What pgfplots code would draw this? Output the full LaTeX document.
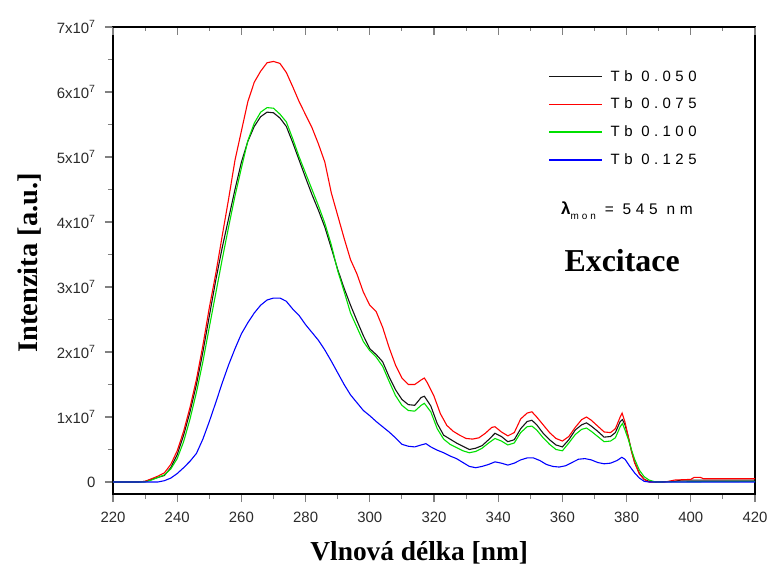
\documentclass[border=0pt]{standalone}
\usepackage{fontspec}
\setmainfont{Liberation Serif}
\newfontfamily\sansf{Liberation Sans}
\newfontfamily\legf[LetterSpace=30]{Liberation Sans}
\usepackage{pgfplots}
\pgfplotsset{compat=1.18}
\definecolor{tickgray}{HTML}{2A2A2A}
\definecolor{myblack}{HTML}{151515}
\definecolor{myred}{HTML}{FF0000}
\definecolor{mygreen}{HTML}{00E000}
\definecolor{myblue}{HTML}{0000FF}
\begin{document}
\begin{tikzpicture}
\useasboundingbox (-113bp,-78bp) rectangle (655bp,494bp);
\begin{axis}[
  scale only axis, width=642bp, height=467bp,
  xmin=220, xmax=420, ymin=-0.1846, ymax=7,
  axis line style={line width=1.3pt},
  xtick={220,240,...,420}, minor x tick num=1,
  ytick={0,1,...,7}, minor y tick num=1,
  yticklabels={0,1x10\textsuperscript{7},2x10\textsuperscript{7},3x10\textsuperscript{7},4x10\textsuperscript{7},5x10\textsuperscript{7},6x10\textsuperscript{7},7x10\textsuperscript{7}},
  xticklabel={\pgfmathprintnumber[assume math mode=true]{\tick}},
  xtick pos=bottom, ytick pos=left,
  tick align=outside,
  major tick length=8bp, minor tick length=5bp,
  tick style={line width=1.1pt},
  ticklabel style={font=\sansf\fontsize{15}{15}\selectfont, text=tickgray},
  xticklabel style={yshift=-7bp},
  yticklabel style={xshift=-6bp},
  xlabel={Vlnová délka [nm]},
  ylabel={Intenzita [a.u.]},
  xlabel style={font=\bfseries\fontsize{27.5}{27.5}\selectfont, at={(axis description cs:0.477,0)}, anchor=north, yshift=-44bp},
  ylabel style={font=\bfseries\fontsize{28.5}{28.5}\selectfont, at={(axis description cs:0,0.495)}, anchor=south, yshift=68bp},
  legend style={draw=none, fill=none, at={(axis description cs:0.678,0.912)}, anchor=north west,
    font=\legf\fontsize{15}{15}\selectfont, row sep=11.5bp, inner sep=0pt},
  legend image code/.code={\draw[#1, line width=1.4pt] (0bp,0bp) -- (53bp,0bp); \path (59bp,0bp);},
  legend cell align=left,
  every axis plot/.append style={line width=1.1pt},
]
% Tb 0.050
\addplot[myblack] coordinates {
(220,0)(228,0)(230,0.01)(232,0.04)(234,0.07)(236,0.10)(238,0.22)(240,0.42)(242,0.72)(244,1.08)(246,1.50)(248,2.00)(250,2.55)(252,3.10)(254,3.60)(256,4.05)(258,4.50)(260,4.92)(262,5.24)(264,5.47)(266,5.62)(268,5.69)(270,5.68)(272,5.60)(274,5.47)(276,5.22)(278,4.95)(280,4.68)(282,4.42)(284,4.18)(286,3.92)(288,3.60)(290,3.27)(292,2.98)(294,2.72)(296,2.48)(298,2.25)(300,2.05)(302,1.96)(304,1.85)(306,1.62)(308,1.42)(310,1.27)(312,1.19)(314,1.18)(316,1.30)(317,1.32)(319,1.17)(321,0.90)(323,0.72)(325,0.66)(327,0.60)(329,0.55)(331,0.50)(333,0.52)(335,0.56)(337,0.65)(339,0.75)(341,0.70)(343,0.62)(345,0.65)(347,0.82)(349,0.93)(350.5,0.95)(352,0.88)(354,0.75)(356,0.65)(358,0.57)(360,0.54)(362,0.65)(364,0.80)(366,0.88)(367.5,0.91)(369,0.86)(371,0.78)(373,0.69)(375,0.70)(376.5,0.76)(378,0.93)(378.7,0.96)(379.5,0.88)(380.5,0.70)(381.5,0.48)(382.5,0.30)(384,0.13)(385.5,0.04)(387,0.01)(389,0)(395,0.01)(397,0.03)(420,0.03)
};
\addlegendentry{Tb 0.050}
% Tb 0.075
\addplot[myred] coordinates {
(220,0)(228,0)(230,0.01)(232,0.05)(234,0.09)(236,0.14)(238,0.27)(240,0.48)(242,0.78)(244,1.15)(246,1.58)(248,2.10)(250,2.68)(252,3.20)(254,3.78)(256,4.35)(258,4.95)(260,5.40)(262,5.85)(264,6.15)(266,6.32)(268,6.45)(270,6.47)(272,6.44)(274,6.30)(276,6.08)(278,5.85)(280,5.65)(282,5.45)(284,5.20)(286,4.92)(288,4.45)(290,4.10)(292,3.75)(294,3.42)(296,3.20)(298,2.92)(300,2.72)(302,2.62)(304,2.38)(306,2.07)(308,1.80)(310,1.60)(312,1.50)(314,1.50)(316,1.57)(317,1.60)(318,1.52)(320,1.32)(322,1.05)(324,0.87)(326,0.78)(328,0.72)(330,0.67)(332,0.66)(334,0.68)(336,0.75)(338,0.84)(339,0.85)(341,0.77)(343,0.71)(345,0.76)(347,0.97)(349,1.06)(350.5,1.08)(352,1.00)(354,0.88)(356,0.76)(358,0.67)(360,0.63)(362,0.70)(364,0.84)(366,0.96)(367.5,1.00)(369,0.95)(371,0.86)(373,0.77)(375,0.76)(376.5,0.82)(378,1.00)(378.6,1.06)(379.5,0.92)(380.5,0.70)(381.5,0.48)(382.5,0.30)(384,0.12)(385.5,0.04)(387,0)(392,0)(395,0.03)(400,0.04)(401,0.07)(403,0.07)(404,0.05)(420,0.05)
};
\addlegendentry{Tb 0.075}
% Tb 0.100
\addplot[mygreen] coordinates {
(220,0)(230,0)(232,0.03)(234,0.07)(236,0.11)(238,0.20)(240,0.36)(242,0.62)(244,0.97)(246,1.38)(248,1.85)(250,2.38)(252,2.90)(254,3.42)(256,3.92)(258,4.40)(260,4.83)(262,5.25)(264,5.52)(266,5.69)(268,5.76)(270,5.75)(272,5.66)(274,5.54)(276,5.28)(278,5.00)(280,4.75)(282,4.50)(284,4.25)(286,3.98)(288,3.65)(290,3.25)(292,2.93)(294,2.60)(296,2.38)(298,2.16)(300,2.02)(302,1.92)(304,1.78)(306,1.55)(308,1.33)(310,1.18)(312,1.10)(314,1.09)(316,1.18)(317,1.21)(319,1.08)(321,0.82)(323,0.66)(325,0.58)(327,0.53)(329,0.48)(331,0.45)(333,0.47)(335,0.52)(337,0.60)(339,0.67)(341,0.63)(343,0.57)(345,0.60)(347,0.76)(349,0.85)(350.5,0.86)(352,0.80)(354,0.68)(356,0.58)(358,0.50)(360,0.48)(362,0.60)(364,0.73)(366,0.81)(367.5,0.83)(369,0.78)(371,0.70)(373,0.62)(375,0.63)(376.5,0.68)(378,0.85)(378.7,0.90)(379.5,0.80)(380.5,0.66)(381.5,0.50)(382.5,0.35)(384,0.18)(385.5,0.08)(387,0.03)(389,0)(420,0.01)
};
\addlegendentry{Tb 0.100}
% Tb 0.125
\addplot[myblue] coordinates {
(220,0)(234,0)(236,0.02)(238,0.06)(240,0.13)(242,0.22)(244,0.32)(246,0.44)(248,0.66)(250,0.93)(252,1.22)(254,1.52)(256,1.80)(258,2.05)(260,2.28)(262,2.45)(264,2.60)(266,2.72)(268,2.80)(270,2.83)(272,2.83)(274,2.78)(276,2.66)(278,2.56)(280,2.42)(282,2.30)(284,2.18)(286,2.03)(288,1.86)(290,1.68)(292,1.50)(294,1.34)(296,1.22)(298,1.10)(300,1.02)(302,0.93)(304,0.85)(306,0.77)(308,0.68)(310,0.58)(312,0.55)(314,0.54)(316,0.57)(317.5,0.59)(319,0.54)(321,0.49)(323,0.45)(325,0.40)(327,0.36)(329,0.30)(331,0.24)(333,0.22)(335,0.24)(337,0.27)(339,0.31)(341,0.29)(343,0.26)(345,0.29)(347,0.34)(349,0.37)(351,0.37)(353,0.33)(355,0.27)(357,0.24)(359,0.23)(361,0.25)(363,0.30)(365,0.35)(367,0.36)(369,0.34)(371,0.30)(373,0.28)(375,0.29)(377,0.33)(378.5,0.38)(379.5,0.35)(381,0.24)(382.5,0.14)(384,0.06)(385.5,0.01)(387,0)(420,0)
};
\addlegendentry{Tb 0.125}
\node[font=\legf\fontsize{15.5}{15.5}\selectfont] at (axis cs:380.1,4.18)
  {{\sansf\bfseries\fontsize{17}{17}\selectfont λ}\raisebox{-0.6ex}{\fontsize{10}{10}\selectfont mon} = 545 nm};
\node[font=\bfseries\fontsize{32}{32}\selectfont] at (axis cs:378.6,3.40) {Excitace};
\end{axis}
\begin{axis}[
  scale only axis, width=642bp, height=467bp,
  xmin=220, xmax=420, ymin=-0.1846, ymax=7,
  axis x line*=top, axis y line=none,
  axis line style={line width=1.3pt},
  xtick={220,240,...,420}, minor x tick num=1,
  xticklabels={}, tick align=inside,
  major tick length=8bp, minor tick length=4bp,
  tick style={line width=1.1pt},
]
\end{axis}
\end{tikzpicture}
\end{document}
